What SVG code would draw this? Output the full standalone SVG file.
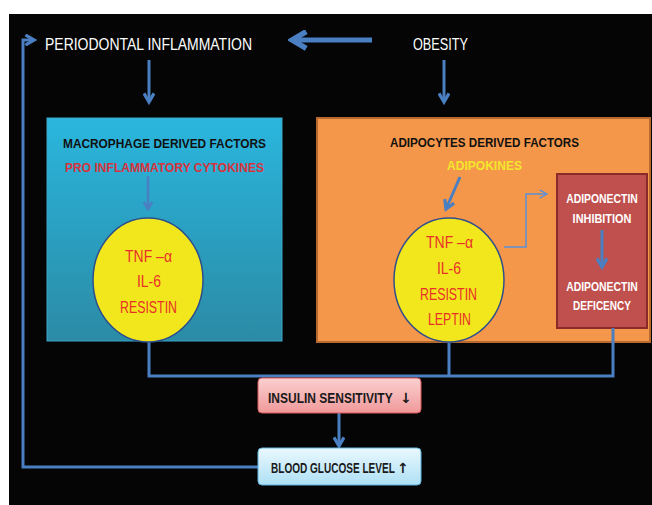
<svg xmlns="http://www.w3.org/2000/svg" width="652" height="505" viewBox="0 0 652 505">
<style>
text{font-family:"Liberation Sans",Arial,sans-serif;}
.title{fill:#ffffff;font-size:17px;}
.hdr{fill:#111111;font-size:13.5px;font-weight:bold;}
.ck{fill:#e8302a;font-size:17px;}
.wt{fill:#ffffff;font-size:13px;font-weight:bold;text-anchor:middle;}
.bx{fill:#1a1a1a;font-size:15px;font-weight:bold;}
.arw{fill:#1a1a1a;font-size:14px;font-weight:bold;font-family:"DejaVu Sans",sans-serif;}
.con{fill:none;stroke:#4a7fc1;stroke-linejoin:miter;}
.circ{fill:#f2e71c;stroke:#2e4f8c;stroke-width:1.5;}
</style>
<defs>
<linearGradient id="gCyan" x1="0" y1="0" x2="0" y2="1">
<stop offset="0" stop-color="#2bb6de"/>
<stop offset="0.45" stop-color="#2aa2c4"/>
<stop offset="1" stop-color="#2b8ba5"/>
</linearGradient>
<linearGradient id="gPink" x1="0" y1="0" x2="0" y2="1">
<stop offset="0" stop-color="#fbd0d0"/>
<stop offset="1" stop-color="#f0999a"/>
</linearGradient>
<linearGradient id="gBlue" x1="0" y1="0" x2="0" y2="1">
<stop offset="0" stop-color="#eaf8fe"/>
<stop offset="1" stop-color="#aee0f5"/>
</linearGradient>
<marker id="ah" viewBox="0 0 10 10" refX="8" refY="5" markerWidth="4.2" markerHeight="4.2" orient="auto" markerUnits="strokeWidth">
<path d="M1.2,1 L8,5 L1.2,9" fill="none" stroke="#4a7fc1" stroke-width="2.6" stroke-linejoin="miter"/>
</marker>
<marker id="ahThin" viewBox="0 0 10 10" refX="9" refY="5" markerWidth="7" markerHeight="7" orient="auto" markerUnits="strokeWidth">
<path d="M2,1 L9,5 L2,9" fill="none" stroke="#5b90d8" stroke-width="1.3"/>
</marker>
</defs>
<rect x="9" y="14" width="643" height="491" fill="#050505"/>

<g id="periodontal">
<text class="title" x="45" y="50" textLength="207" lengthAdjust="spacingAndGlyphs">PERIODONTAL INFLAMMATION</text>
</g>
<g id="obesity">
<text class="title" x="413" y="50" textLength="55" lengthAdjust="spacingAndGlyphs">OBESITY</text>
</g>

<g id="macrophage">
<rect x="47" y="118" width="235" height="223" fill="url(#gCyan)" stroke="#3fa7c8" stroke-width="1"/>
<text class="hdr" x="63" y="148" textLength="203" lengthAdjust="spacingAndGlyphs">MACROPHAGE DERIVED FACTORS</text>
<text class="hdr" x="65" y="172" textLength="199" lengthAdjust="spacingAndGlyphs" style="fill:#d8323c">PRO INFLAMMATORY CYTOKINES</text>
</g>

<g id="adipocytes">
<rect x="317" y="118" width="333" height="224" fill="#f5974a" stroke="#b86a2e" stroke-width="2"/>
<text class="hdr" x="390" y="147" textLength="189" lengthAdjust="spacingAndGlyphs">ADIPOCYTES DERIVED FACTORS</text>
<text class="hdr" x="447" y="170" textLength="75" lengthAdjust="spacingAndGlyphs" style="fill:#f4e62c">ADIPOKINES</text>
</g>

<g id="adiponectin">
<rect x="557" y="174" width="90" height="154" fill="#c0504d" stroke="#8a2b2a" stroke-width="2"/>
<text class="wt" transform="translate(602,203) scale(0.8,1)">ADIPONECTIN</text>
<text class="wt" transform="translate(602,223) scale(0.84,1)">INHIBITION</text>
<text class="wt" transform="translate(602,291) scale(0.8,1)">ADIPONECTIN</text>
<text class="wt" transform="translate(602,310) scale(0.77,1)">DEFICENCY</text>
</g>

<g id="connectors">
<path class="con" d="M372,40 L292,40" style="stroke-width:5" marker-end="url(#ah)"/>
<path class="con" d="M149,60 L149,102" style="stroke-width:3" marker-end="url(#ah)"/>
<path class="con" d="M444,60 L444,102" style="stroke-width:3" marker-end="url(#ah)"/>
<path class="con" d="M148,176 L148,209" style="stroke-width:2.5" marker-end="url(#ah)"/>
<path class="con" d="M460,177 L446,209" style="stroke-width:3" marker-end="url(#ah)"/>
<path class="con" d="M504,247 L526,247 L526,194 L547,194" style="stroke:#5b90d8;stroke-width:1.5" marker-end="url(#ahThin)"/>
<path class="con" d="M602,230 L602,267" style="stroke-width:3" marker-end="url(#ah)"/>
<path class="con" d="M149,341 L149,376 L613,376 L613,328" style="stroke-width:3"/>
<path class="con" d="M449,342 L449,376" style="stroke-width:3"/>
<path class="con" d="M339,413 L339,446" style="stroke-width:3" marker-end="url(#ah)"/>
<path class="con" d="M258,467 L23,467 L23,40 L34,40" style="stroke-width:3" marker-end="url(#ah)"/>
</g>

<g id="macrophage-cytokines">
<ellipse class="circ" cx="148" cy="280" rx="55" ry="62"/>
<text class="ck" x="125" y="262" textLength="47" lengthAdjust="spacingAndGlyphs">TNF –α</text>
<text class="ck" x="137" y="287" textLength="24" lengthAdjust="spacingAndGlyphs">IL-6</text>
<text class="ck" x="120" y="313" textLength="57" lengthAdjust="spacingAndGlyphs">RESISTIN</text>
</g>

<g id="adipokines">
<ellipse class="circ" cx="449" cy="280" rx="55" ry="62"/>
<text class="ck" x="426" y="248" textLength="47" lengthAdjust="spacingAndGlyphs">TNF –α</text>
<text class="ck" x="437" y="274" textLength="24" lengthAdjust="spacingAndGlyphs">IL-6</text>
<text class="ck" x="420" y="300" textLength="57" lengthAdjust="spacingAndGlyphs">RESISTIN</text>
<text class="ck" x="428" y="325" textLength="43" lengthAdjust="spacingAndGlyphs">LEPTIN</text>
</g>

<g id="insulin">
<rect x="258" y="378" width="163" height="35" rx="4" fill="url(#gPink)" stroke="#d9585a" stroke-width="1"/>
<text class="bx" transform="translate(268,403) scale(0.8,1)">INSULIN SENSITIVITY</text>
<text class="arw" x="400" y="403">↓</text>
</g>

<g id="glucose">
<rect x="258" y="448" width="163" height="37" rx="4" fill="url(#gBlue)" stroke="#5db3df" stroke-width="1"/>
<text class="bx" transform="translate(271,473) scale(0.67,1)">BLOOD GLUCOSE LEVEL</text>
<text class="arw" x="397" y="473">↑</text>
</g>
</svg>
